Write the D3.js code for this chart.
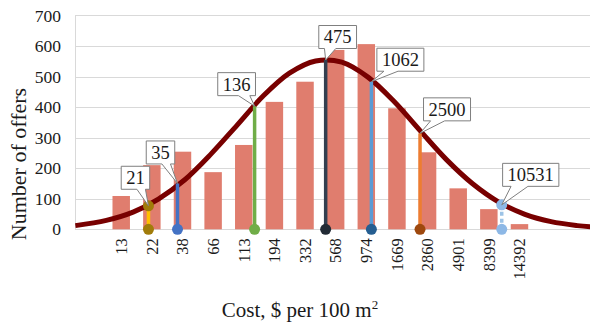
<!DOCTYPE html>
<html>
<head>
  <meta charset="utf-8">
  <script src="https://cdn.jsdelivr.net/npm/d3@7"></script>
  <style type="text/css">
    body {
      margin: 0;
      background: #fff;
    }
    text {
      font-family: "Liberation Serif", "Times New Roman", serif;
      fill: #1a1a1a;
    }
    .grid line {
      stroke: #d9d9d9;
      stroke-width: 1;
    }
    .callout path {
      fill: #fff;
      stroke: #7f7f7f;
      stroke-width: 1;
    }
  </style>
</head>
<body>
  <script type="text/javascript">

  // bars: cost class (upper bound, $ per 100 m2) and number of offers
  const categories = ['13', '22', '38', '66', '113', '194', '332', '568', '974', '1669', '2860', '4901', '8399', '14392'];
  const offers = [109, 210, 254, 187, 276, 417, 483, 587, 606, 396, 252, 134, 66, 17];

  // fitted curve, points (cost, offers)
  const curveCost = [5.8, 10, 16, 25, 40, 63, 100, 158, 251, 398, 631, 1000, 1585, 2512, 3981, 6310, 10000, 15849, 25119, 39811, 50000];
  const curveCount = [12, 29, 56, 99, 163, 246, 341, 436, 511, 551, 547, 498, 418, 322, 228, 149, 89, 49, 25, 12, 8];

  // marked costs on the curve
  const markerCost = [21, 35, 136, 475, 1062, 2500, 10531];
  const markerCount = [77, 150, 403, 554, 483, 314, 80];

  const yTicks = [0, 100, 200, 300, 400, 500, 600, 700];

  // styles for the markers (same order as markerCost)
  const markerLineColor = ['#ffc000', '#4472c4', '#70ad47', '#333f50', '#5b9bd5', '#ed7d31', '#9dc3e6'];
  const markerDotColor = ['#a17c0a', '#4472c4', '#70ad47', '#222a35', '#255e91', '#9e480e', '#8db8e6'];
  const markerTopDot = [true, false, false, false, false, false, true];
  const markerDash = [null, null, null, null, null, null, '4,3'];
  // callout box centre relative to the marked point, px
  const calloutOffset = [[-13, -28], [-17, -31], [-18, -22], [12, -23], [29, -22], [27, -24], [29, -30]];

  const W = 592, H = 327;
  const plot = {left: 75, right: 590, top: 15.4, bottom: 229.3};

  const svg = d3.select('body').append('svg')
    .attr('width', W)
    .attr('height', H);

  svg.append('clipPath').attr('id', 'plotclip')
    .append('rect')
    .attr('x', plot.left).attr('y', 0)
    .attr('width', plot.right - plot.left).attr('height', plot.bottom + 10);

  // scales
  const y = d3.scaleLinear().domain([0, 700]).range([plot.bottom, plot.top]);
  const x = d3.scaleBand().domain(categories)
    .range([105.9, 534.8])
    .paddingInner(0.43)
    .paddingOuter(0.215);
  const center = (c) => x(c) + x.bandwidth() / 2;
  const xlog = d3.scaleLog()
    .domain([+categories[0], +categories[categories.length - 1]])
    .range([center(categories[0]), center(categories[categories.length - 1])]);

  // gridlines
  const grid = svg.append('g').attr('class', 'grid');
  grid.selectAll('line.h').data(yTicks).join('line')
    .attr('class', 'h')
    .attr('x1', plot.left).attr('x2', plot.right)
    .attr('y1', (d) => Math.round(y(d)) + 0.5).attr('y2', (d) => Math.round(y(d)) + 0.5);
  grid.append('line')
    .attr('x1', plot.left + 0.5).attr('x2', plot.left + 0.5)
    .attr('y1', y(700)).attr('y2', y(0));

  // y axis labels
  const yaxis = d3.axisLeft(y).tickValues(yTicks).tickSize(0).tickPadding(0);
  svg.append('g')
    .attr('transform', `translate(61,0)`)
    .call(yaxis)
    .call((g) => g.select('.domain').remove())
    .selectAll('text')
    .style('font-size', '17.5px')
    .style('font-family', '"Liberation Serif", serif')
    .attr('fill', '#1a1a1a');

  // x axis labels (rotated)
  const xaxis = d3.axisBottom(x).tickSize(0).tickPadding(0);
  const gx = svg.append('g')
    .attr('transform', `translate(0,${plot.bottom})`)
    .call(xaxis)
    .call((g) => g.select('.domain').remove());
  gx.selectAll('text')
    .style('font-size', '16.5px')
    .style('font-family', '"Liberation Serif", serif')
    .attr('fill', '#1a1a1a')
    .attr('text-anchor', 'end')
    .attr('transform', 'rotate(-90)')
    .attr('x', -9)
    .attr('y', 0)
    .attr('dy', '0.35em');

  // bars
  svg.append('g').selectAll('rect').data(categories).join('rect')
    .attr('x', (d) => x(d))
    .attr('width', x.bandwidth())
    .attr('y', (d, i) => y(offers[i]))
    .attr('height', (d, i) => y(0) - y(offers[i]))
    .attr('fill', '#e07d6e');

  // curve
  const curvePts = curveCost.map((c, i) => [xlog(c), y(curveCount[i])]);
  svg.append('path')
    .attr('clip-path', 'url(#plotclip)')
    .attr('d', d3.line().curve(d3.curveCatmullRom.alpha(0.5))(curvePts))
    .attr('fill', 'none')
    .attr('stroke', '#780000')
    .attr('stroke-width', 5);

  // marker lines and dots
  const mk = svg.append('g');
  markerCost.forEach((c, i) => {
    const mx = xlog(c);
    mk.append('line')
      .attr('x1', mx).attr('x2', mx)
      .attr('y1', y(markerCount[i])).attr('y2', y(0))
      .attr('stroke', markerLineColor[i])
      .attr('stroke-width', 3.5)
      .attr('stroke-dasharray', markerDash[i]);
    mk.append('circle')
      .attr('cx', mx).attr('cy', y(0)).attr('r', 5.5)
      .attr('fill', markerDotColor[i]);
    if (markerTopDot[i]) {
      mk.append('circle')
        .attr('cx', mx).attr('cy', y(markerCount[i])).attr('r', 5.5)
        .attr('fill', markerDotColor[i]);
    }
  });

  // callouts
  const co = svg.append('g').attr('class', 'callout');
  markerCost.forEach((c, i) => {
    const px = xlog(c), py = y(markerCount[i]);
    const cx = px + calloutOffset[i][0], cy = py + calloutOffset[i][1];
    const g = co.append('g');
    const path = g.append('path');
    const t = g.append('text')
      .attr('x', cx).attr('y', cy)
      .attr('dy', '0.35em')
      .attr('text-anchor', 'middle')
      .style('font-size', '18.5px')
      .text(c);
    const w = t.node().getComputedTextLength() + 10, h = 23;
    const x0 = cx - w / 2, x1 = cx + w / 2, y0 = cy - h / 2, y1 = cy + h / 2;
    const right = px > cx;
    const b1 = right ? x0 + 0.55 * w : x0 + 0.15 * w;
    const b2 = right ? x0 + 0.85 * w : x0 + 0.45 * w;
    path.attr('d', `M${x0},${y0}H${x1}V${y1}H${b2}L${px},${py}L${b1},${y1}H${x0}Z`);
  });

  // axis titles
  svg.append('text')
    .attr('transform', 'translate(26,164) rotate(-90)')
    .attr('text-anchor', 'middle')
    .style('font-size', '22px')
    .text('Number of offers');

  const xt = svg.append('text')
    .attr('x', 300).attr('y', 317)
    .attr('text-anchor', 'middle')
    .style('font-size', '21px');
  xt.append('tspan').text('Cost, $ per 100 m');
  xt.append('tspan').style('font-size', '13px').attr('dy', -8).text('2');

  </script>
</body>
</html>
